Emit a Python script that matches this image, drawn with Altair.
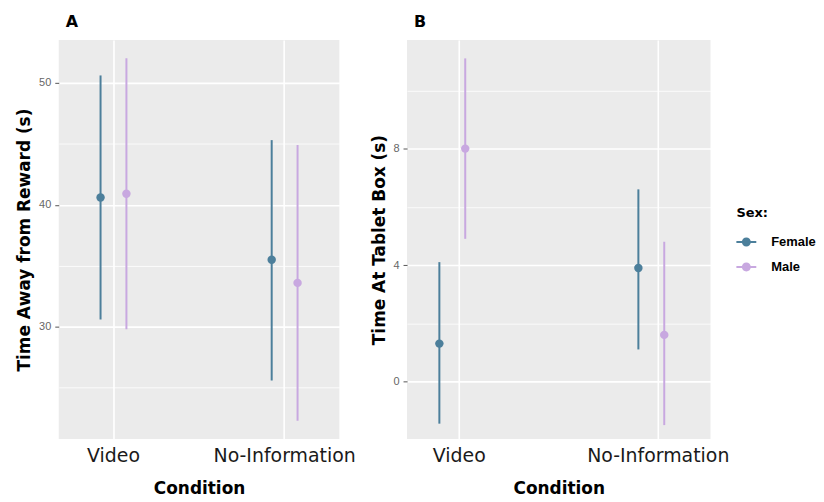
import altair as alt
import pandas as pd

# ---- data ----
condition_order = ["Video", "No-Information"]
sex_order = ["Female", "Male"]

conditions = ["Video", "Video", "No-Information", "No-Information"]
sexes = ["Female", "Male", "Female", "Male"]

# Panel A: Time Away from Reward (s)
a_mean = [40.6, 40.9, 35.5, 33.6]
a_low = [30.6, 29.8, 25.6, 22.3]
a_high = [50.6, 52.0, 45.3, 44.9]

# Panel B: Time At Tablet Box (s)
b_mean = [1.3, 8.0, 3.9, 1.6]
b_low = [-1.45, 4.9, 1.1, -1.5]
b_high = [4.1, 11.1, 6.6, 4.8]

a_ticks = [25, 30, 35, 40, 45, 50]
b_ticks = [0, 2, 4, 6, 8, 10]

colors = ["#4C7F9B", "#C8A8E0"]

FONT = "DejaVu Sans"

df_a = pd.DataFrame({"Condition": conditions, "Sex": sexes,
                     "mean": a_mean, "low": a_low, "high": a_high})
df_b = pd.DataFrame({"Condition": conditions, "Sex": sexes,
                     "mean": b_mean, "low": b_low, "high": b_high})

legend_symbol = ("M-1,-0.1H1V0.1H-1Z "
                 "M0.45,0A0.45,0.45,0,1,1,-0.45,0A0.45,0.45,0,1,1,0.45,0Z")

LEGEND = alt.Legend(title="Sex:", orient="none", legendX=681, legendY=168,
                    symbolType=legend_symbol, symbolSize=400,
                    symbolStrokeWidth=0, symbolOpacity=1,
                    titleFont=FONT, titleFontSize=13,
                    titleFontWeight="bold", titleColor="black",
                    titlePadding=12,
                    labelFont="Liberation Sans", labelFontSize=13,
                    labelFontWeight="bold", labelColor="black",
                    labelOffset=15, rowPadding=8, padding=0)


def panel(df, letter, ytitle, ydomain, yticks, major_mod, pad_outer, off_pad,
          width):
    x = alt.X("Condition:N", sort=condition_order, title="Condition",
              scale=alt.Scale(paddingInner=0.5, paddingOuter=pad_outer),
              axis=alt.Axis(labelAngle=0, labelFont=FONT, labelFontSize=19,
                            labelColor="#1a1a1a", labelPadding=8,
                            ticks=False, domain=False, grid=True,
                            gridColor="white", gridWidth=1.6,
                            bandPosition=0.5,
                            titleFont=FONT, titleFontSize=17,
                            titleFontWeight="bold", titleColor="black",
                            titlePadding=15))
    xoff = alt.XOffset("Sex:N", sort=sex_order,
                       scale=alt.Scale(paddingOuter=off_pad, paddingInner=0))
    y_axis = alt.Axis(values=yticks,
                      labelExpr=f"datum.value % {major_mod} == 0 ? datum.label : ''",
                      labelFont="Liberation Sans", labelFontSize=11,
                      labelColor="#666666", labelPadding=4,
                      tickSize=4, tickColor="#555555",
                      tickOpacity={"condition": {"test": f"datum.value % {major_mod} == 0",
                                                 "value": 1}, "value": 0},
                      domain=False, grid=True, gridColor="white",
                      gridWidth={"condition": {"test": f"datum.value % {major_mod} == 0",
                                               "value": 1.6}, "value": 0.8},
                      titleFont=FONT, titleFontSize=17, titleFontWeight="bold",
                      titleColor="black", titlePadding=5)
    y = alt.Y("mean:Q", title=ytitle, axis=y_axis,
              scale=alt.Scale(domain=ydomain, nice=False, zero=False))
    color_scale = alt.Scale(domain=sex_order, range=colors)

    rules = alt.Chart(df).mark_rule(strokeWidth=2).encode(
        x=x, xOffset=xoff,
        y=alt.Y("low:Q", scale=alt.Scale(domain=ydomain, nice=False, zero=False)),
        y2="high:Q",
        stroke=alt.condition(alt.datum.Sex == sex_order[0],
                             alt.value(colors[0]), alt.value(colors[1])),
    )
    points = alt.Chart(df).mark_point(filled=True, size=72, opacity=1).encode(
        x=x, xOffset=xoff, y=y,
        color=alt.Color("Sex:N", scale=color_scale, legend=LEGEND),
    )
    return alt.layer(rules, points).properties(
        width=width, height=401,
        title=alt.TitleParams(letter, anchor="start", frame="group",
                              font=FONT, fontSize=16, fontWeight="bold",
                              color="black", dx=7, offset=10),
    )


panel_a = panel(df_a, "A", "Time Away from Reward (s)", [20.8, 53.5], a_ticks,
                10, 0.0698, 0.654, 282)
panel_b = panel(df_b, "B", "Time At Tablet Box (s)", [-1.98, 11.73], b_ticks,
                4, 0.0125, 0.968, 305)

chart = alt.hconcat(panel_a, panel_b, spacing=13).properties(
    padding={"left": 7, "top": 5, "right": 0, "bottom": 0},
    background="white",
).configure_view(fill="#EBEBEB", stroke=None)

chart.save("out.html", embed_options={"renderer": "svg", "actions": False})
